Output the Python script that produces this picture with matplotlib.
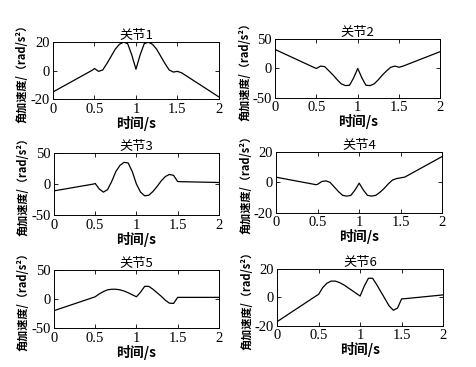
import matplotlib
matplotlib.use('Agg')
import matplotlib.pyplot as plt
from matplotlib.ticker import FuncFormatter

plt.rcParams['font.family'] = ['Liberation Serif', 'DejaVu Serif']
plt.rcParams['axes.unicode_minus'] = False

cjk = ['Noto Sans CJK SC', 'Liberation Serif', 'DejaVu Serif']

# 时间点 (s)
t = [0, 0.48, 0.5, 0.55, 0.6, 0.65, 0.7, 0.75, 0.8, 0.85, 0.9, 0.95, 1.0,
     1.05, 1.1, 1.15, 1.2, 1.25, 1.3, 1.35, 1.4, 1.45, 1.5, 1.55, 2.0]

# 各关节角加速度 (rad/s^2)
j1 = [-15, 0.5, 1.5, -0.5, 0.5, 5, 10, 15, 18.5, 20, 19, 11, 1,
      11, 19, 20, 18.5, 15, 10, 5, 0.5, -1, -0.5, -1.5, -18.5]
j2 = [32, 1, 0, 4, 3, -4, -11, -19, -26, -29, -28.5, -16, 0,
      -16, -28.5, -29, -26, -19, -11, -4, 2, 4, 2, 4, 28.5]
j3 = [-11, 0, 1, -8, -13, -9, 4, 20, 30, 35, 34, 20, 0,
      -13, -19, -18, -12, -4, 5, 12, 15.5, 14, 4, 3.8, 2.5]
j4 = [3.4, -1.5, -1.2, 0.6, 1, 0, -3, -6, -8.5, -9, -8.5, -5, -0.5,
      -5, -8.5, -9, -8.5, -6.5, -4, -1, 1.5, 2.5, 3, 3.5, 17]
j5 = [-20, 3, 4, 9, 13, 16, 17, 17, 16, 14, 11, 7.5, 4,
      12, 22, 22, 17, 11, 5, -2, -7, -7.5, 3, 3, 3]
j6 = [-17, 1.5, 2.2, 7, 10, 11.5, 11.5, 10.5, 9, 7, 5, 3, 1,
      8, 13.5, 13.5, 9, 4, -1, -6, -9, -7.5, -1, -0.8, 1.8]

series = [j1, j2, j3, j4, j5, j6]
titles = ['关节1', '关节2', '关节3', '关节4', '关节5', '关节6']
ylims = [(-20, 20), (-50, 50), (-50, 50), (-20, 20), (-50, 50), (-20, 20)]
xticks = [0, 0.5, 1, 1.5, 2]

positions = [
    [0.111, 0.730, 0.348, 0.155],
    [0.577, 0.733, 0.346, 0.161],
    [0.113, 0.414, 0.346, 0.169],
    [0.579, 0.420, 0.348, 0.166],
    [0.113, 0.106, 0.346, 0.158],
    [0.581, 0.112, 0.348, 0.155],
]

fig = plt.figure(figsize=(4.77, 3.67), dpi=100)

for pos, y, title, yl in zip(positions, series, titles, ylims):
    ax = fig.add_axes(pos)
    ax.plot(t, y, color='black', linewidth=0.9)
    ax.set_xlim(0, 2)
    ax.set_ylim(*yl)
    ax.set_xticks(xticks)
    ax.set_yticks([yl[0], 0, yl[1]])
    ax.xaxis.set_major_formatter(FuncFormatter(lambda v, p: f'{v:g}'))
    ax.tick_params(direction='in', top=True, right=True, labelsize=10.5,
                   length=3, width=0.6)
    ax.tick_params(axis='x', pad=2.5)
    ax.tick_params(axis='y', pad=2.5)
    for s in ax.spines.values():
        s.set_linewidth(0.7)
    ax.set_title(title, family=cjk, fontsize=9.5, pad=2)
    ax.set_xlabel('时间/s', family=cjk, fontsize=10, fontweight='bold', labelpad=0)
    ax.set_ylabel('角加速度/（rad/s²）', family=cjk, fontsize=8,
                  fontweight='bold', labelpad=1)

fig.savefig('out.png', dpi=100, facecolor='white')
